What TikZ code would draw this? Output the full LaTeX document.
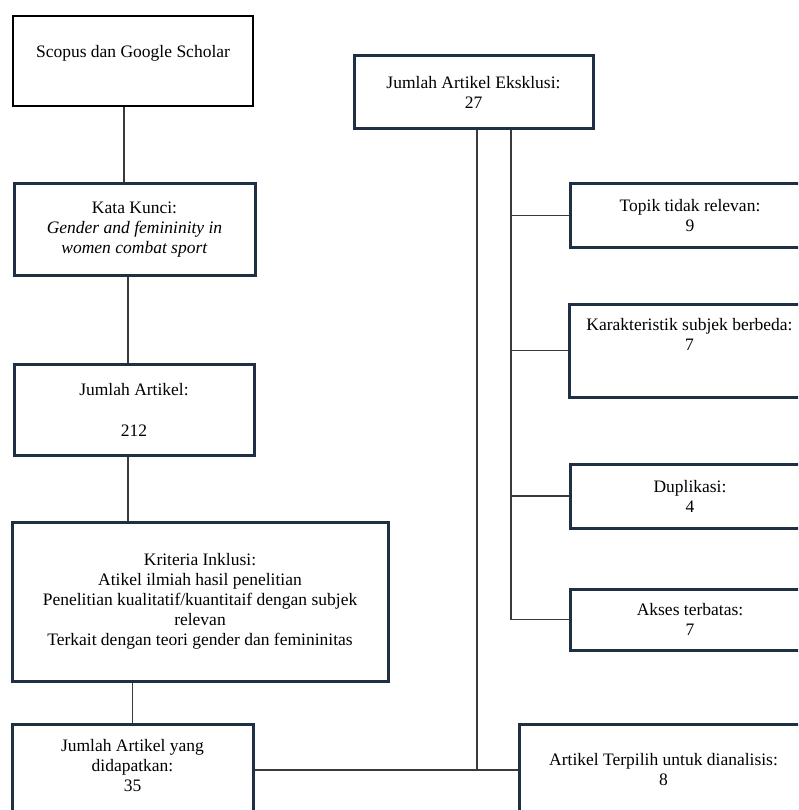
\documentclass[tikz,border=0pt]{standalone}
\usepackage{fontspec}
\setmainfont{Liberation Serif}
\usetikzlibrary{positioning}
\definecolor{biru}{HTML}{1F3044}
\definecolor{abu}{HTML}{3A3A3A}
\tikzset{
  kotak/.style={draw=biru, line width=3pt, align=center, inner sep=0pt,
    font=\fontsize{17.5}{20}\selectfont},
  garis/.style={draw=abu, line width=1.2pt},
}
\begin{document}
\begin{tikzpicture}[x=1pt,y=-1pt]
			\clip (0,0) rectangle (798,810);
			\fill[white] (0,0) rectangle (798,810);
			% kolom kiri
			\node[kotak, draw=black, line width=1.8pt, minimum width=240, minimum height=90] (scopus) at (133,61) {Scopus dan Google Scholar\\ \mbox{}};
			\node[kotak, minimum width=241, minimum height=91] (kunci) at (134.5,229.5) {Kata Kunci:\\\textit{Gender and femininity in}\\\textit{women combat sport}};
			\node[kotak, minimum width=240, minimum height=91] (jumlah) at (134,409.5) {Jumlah Artikel:\\[21pt]212};
			\node[kotak, minimum width=376, minimum height=159] (inklusi) at (200,601.5) {Kriteria Inklusi:\\Atikel ilmiah hasil penelitian\\Penelitian kualitatif/kuantitaif dengan subjek\\relevan\\Terkait dengan teori gender dan femininitas};
			\node[kotak, minimum width=241, minimum height=92] (didapat) at (132.5,770) {Jumlah Artikel yang\\didapatkan:\\35\\[-10pt]\mbox{}};
			% kolom kanan
			\node[kotak, minimum width=239, minimum height=73] (eksklusi) at (473.5,92.5) {Jumlah Artikel Eksklusi:\\27};
			\node[kotak, minimum width=240, minimum height=63] (topik) at (690,215.5) {Topik tidak relevan:\\9};
			\node[kotak, minimum width=241, minimum height=93] (karakter) at (689.5,350.5) {Karakteristik subjek berbeda:\\7\\[13pt]\mbox{}};
			\node[kotak, minimum width=240, minimum height=64] (duplikasi) at (690,496) {Duplikasi:\\4};
			\node[kotak, minimum width=240, minimum height=61] (akses) at (690,619.5) {Akses terbatas:\\7};
			\node[kotak, minimum width=289, minimum height=92] (terpilih) at (663.5,770) {Artikel Terpilih untuk dianalisis:\\8};
			% garis kiri
			\draw[garis] ([xshift=-9pt]scopus.south) -- ([xshift=-9pt]scopus.south |- kunci.north);
			\draw[garis] ([xshift=-6.5pt]kunci.south) -- ([xshift=-6.5pt]kunci.south |- jumlah.north);
			\draw[garis] ([xshift=-6pt]jumlah.south) -- ([xshift=-6pt]jumlah.south |- inklusi.north);
			\draw[garis] (didapat.north) -- (didapat.north |- inklusi.south);
			\draw[garis] (didapat.east) -- (terpilih.west);
			% garis eksklusi
			\draw[garis] ([xshift=3.5pt]eksklusi.south) -- ([xshift=3.5pt]eksklusi.south |- didapat.east);
			\coordinate (cabang) at ([xshift=37.5pt]eksklusi.south);
			\draw[garis] (cabang) -- (cabang |- akses.west);
			\foreach \k in {topik, karakter, duplikasi, akses}
				\draw[garis] (cabang |- \k.west) -- (\k.west);
		\end{tikzpicture}
\end{document}
